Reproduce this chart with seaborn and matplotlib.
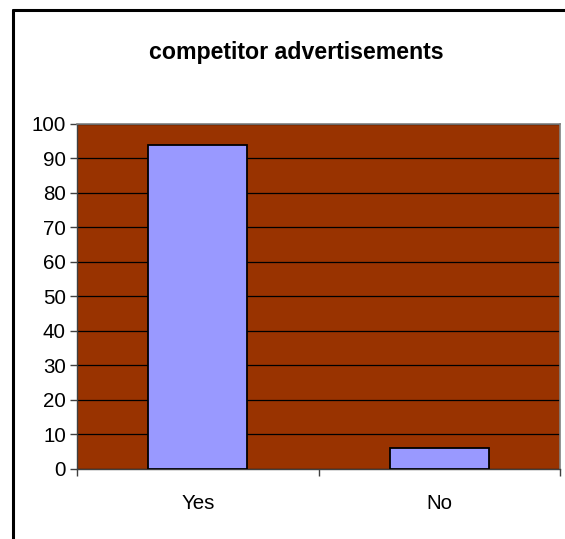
import matplotlib
matplotlib.use("Agg")
import matplotlib.pyplot as plt
from matplotlib.lines import Line2D
from matplotlib.ticker import FixedLocator
import seaborn as sns
import pandas as pd

categories = ["Yes", "No"]
values = [94, 6]
y_ticks = [0, 10, 20, 30, 40, 50, 60, 70, 80, 90, 100]
title = "competitor advertisements"

sns.set_theme(style="white")
plt.rcParams["font.family"] = ["Liberation Sans", "DejaVu Sans"]

df = pd.DataFrame({"answer": categories, "percent": values})

fig = plt.figure(figsize=(5.65, 5.39), dpi=100)
ax = fig.add_axes([0.1363, 0.1299, 0.8549, 0.6401])
ax.set_facecolor("#993300")

sns.barplot(data=df, x="answer", y="percent", order=categories,
            color="#9999FF", saturation=1, width=0.41,
            edgecolor="black", linewidth=1.3, ax=ax, zorder=3)

ax.set_ylim(0, 100)
ax.set_xlim(-0.5, 1.5)
ax.set_yticks(y_ticks)
ax.yaxis.grid(True, color="black", linewidth=0.9, zorder=1)
ax.set_axisbelow(True)
ax.tick_params(axis="y", labelsize=14.8, length=5, width=1, color="#404040",
               left=True, pad=3, labelcolor="black")
ax.tick_params(axis="x", which="major", labelsize=14.8, length=0, pad=18,
               labelcolor="black")
ax.xaxis.set_minor_locator(FixedLocator([-0.5, 0.5, 1.5]))
ax.tick_params(axis="x", which="minor", length=5, width=1, color="#404040",
               bottom=True)
ax.set_xlabel("")
ax.set_ylabel("")

for side in ["top", "right"]:
    ax.spines[side].set_color("#808080")
    ax.spines[side].set_linewidth(1.2)
for side in ["left", "bottom"]:
    ax.spines[side].set_color("#404040")
    ax.spines[side].set_linewidth(1.0)

fig.text(0.525, 0.9035, title, ha="center", va="center",
         fontsize=16.7, fontweight="bold", color="black")

# chart frame: top and left edges
fig.add_artist(Line2D([13 / 565, 1.0], [1 - 10 / 539, 1 - 10 / 539],
                      transform=fig.transFigure, color="black", linewidth=2.2))
fig.add_artist(Line2D([13 / 565, 13 / 565], [0.0, 1 - 10 / 539],
                      transform=fig.transFigure, color="black", linewidth=2.2))

fig.savefig("out.png", dpi=100)
